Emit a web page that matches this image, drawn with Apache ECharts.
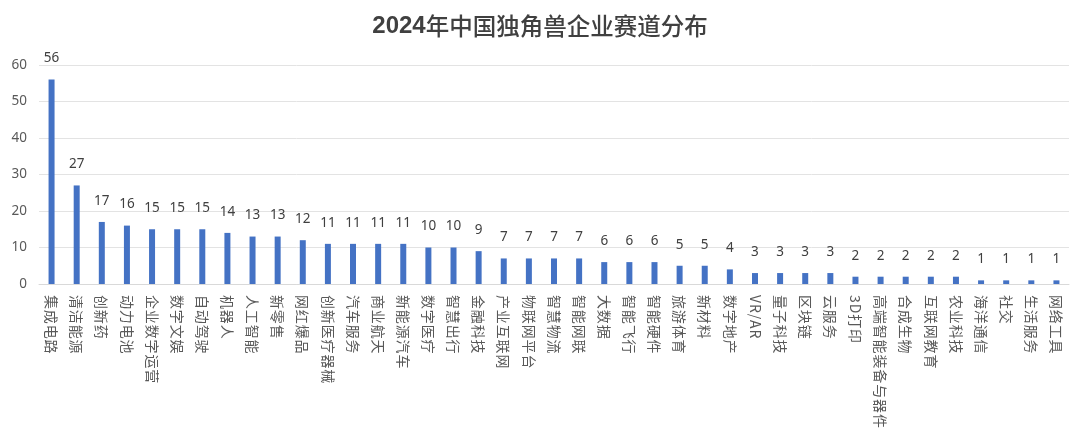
<!DOCTYPE html>
<html>
<head>
<meta charset="utf-8">
<script src="https://cdn.jsdelivr.net/npm/echarts@6/dist/echarts.min.js"></script>
<style>
	html, body { margin: 0; padding: 0; background: #fff; }
	#chart { width: 1080px; height: 447px; }
</style>
</head>
<body>
<div id="chart"></div>
<script>
var categories = ['集成电路', '清洁能源', '创新药', '动力电池', '企业数字运营', '数字文娱', '自动驾驶', '机器人', '人工智能', '新零售',
	'网红爆品', '创新医疗器械', '汽车服务', '商业航天', '新能源汽车', '数字医疗', '智慧出行', '金融科技', '产业互联网', '物联网平台',
	'智慧物流', '智能网联', '大数据', '智能飞行', '智能硬件', '旅游体育', '新材料', '数字地产', 'VR/AR', '量子科技',
	'区块链', '云服务', '3D打印', '高端智能装备与器件', '合成生物', '互联网教育', '农业科技', '海洋通信', '社交', '生活服务', '网络工具'];
var counts = [56, 27, 17, 16, 15, 15, 15, 14, 13, 13,
	12, 11, 11, 11, 11, 10, 10, 9, 7, 7,
	7, 7, 6, 6, 6, 5, 5, 4, 3, 3,
	3, 3, 2, 2, 2, 2, 2, 1, 1, 1, 1];
var yTicks = [0, 10, 20, 30, 40, 50, 60];

var chart = echarts.init(document.getElementById('chart'), null, { renderer: 'canvas' });

var option = {
	// 标题：数字粗体，汉字常规
	title: {
		text: '{b|2024}{n|年中国独角兽企业赛道分布}',
		left: 'center',
		top: 9,
		textStyle: {
			rich: {
				b: { fontFamily: 'Liberation Sans', fontSize: 24, fontWeight: 'bold', color: '#404040' },
				n: { fontFamily: 'Noto Sans CJK SC', fontSize: 23.5, fontWeight: 500, color: '#404040' }
			}
		}
	},
	grid: {
		left: 39,
		right: 11,
		top: 65,
		bottom: 163
	},
	xAxis: {
		type: 'category',
		data: categories,
		axisLine: { lineStyle: { color: '#d9d9d9', width: 1 } },
		axisTick: { show: false },
		axisLabel: {
			interval: 0,
			rotate: -90,
			margin: 11,
			color: '#595959',
			fontFamily: 'Noto Sans CJK SC',
			fontSize: 14,
			// 字间留一点空隙
			formatter: function(v) {
				return v.split('').join('\u200a');
			}
		}
	},
	yAxis: {
		type: 'value',
		min: yTicks[0],
		max: yTicks[yTicks.length - 1],
		interval: 10,
		axisLine: { show: false },
		axisTick: { show: false },
		splitLine: { lineStyle: { color: '#e3e3e3', width: 1 } },
		axisLabel: {
			color: '#595959',
			fontFamily: 'Noto Sans',
			fontSize: 13.5,
			margin: 12
		}
	},
	series: [{
		type: 'bar',
		data: counts,
		barWidth: 6,
		itemStyle: { color: '#4472c4' },
		label: {
			show: true,
			position: 'top',
			distance: 14,
			color: '#404040',
			fontFamily: 'Noto Sans',
			fontSize: 13.5
		}
	}]
};

chart.setOption(option);
</script>
</body>
</html>
